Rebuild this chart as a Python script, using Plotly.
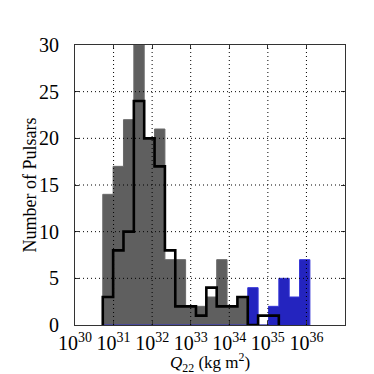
import plotly.graph_objects as go

# Histogram data (bins in log10(Q22 / kg m^2))
bin_left = 30.72          # log10 of first bin edge
bin_width = 0.2685        # bin width in decades
gray_counts = [14, 17, 22, 30, 20, 21, 7, 7, 2, 2, 3, 7, 2, 3, 0, 0, 0, 0, 0, 0]
blue_counts = [0, 0, 0, 0, 0, 0, 0, 0, 0, 0, 0, 0, 0, 0, 4, 0, 2, 5, 3, 7]
outline_counts = [3, 8, 10, 24, 20, 17, 8, 2, 2, 1, 4, 2, 2, 3, 0, 1, 1]
tick_exponents = [30, 31, 32, 33, 34, 35, 36]
y_ticks = [0, 5, 10, 15, 20, 25, 30]


def step_xy(counts):
    n = len(counts)
    edges = [bin_left + i * bin_width for i in range(n + 1)]
    xs = [edges[0]] + edges[:n] + [edges[n], edges[n]]
    ys = [0] + list(counts) + [counts[-1], 0]
    return xs, ys


FONT = "Liberation Serif"
fig = go.Figure()

gx, gy = step_xy(gray_counts)
fig.add_trace(go.Scatter(x=gx, y=gy, mode="lines", line=dict(shape="hv", color="#6a6a6a", width=1),
                         fill="tozeroy", fillcolor="#5f5f5f", hoverinfo="skip", showlegend=False))
bx, by = step_xy(blue_counts)
fig.add_trace(go.Scatter(x=bx, y=by, mode="lines", line=dict(shape="hv", color="#3535d6", width=1),
                         fill="tozeroy", fillcolor="#2424bf", hoverinfo="skip", showlegend=False))
ox, oy = step_xy(outline_counts)
fig.add_trace(go.Scatter(x=ox, y=oy, mode="lines", line=dict(shape="hv", color="black", width=2.6),
                         hoverinfo="skip", showlegend=False))

# fine dotted grid drawn above the bars
GRID = dict(color="black", width=1, dash="1px,3px")
for e in tick_exponents[1:]:
    fig.add_shape(type="line", xref="x", yref="paper", x0=e, x1=e, y0=0, y1=1,
                  line=GRID, layer="above")
for v in y_ticks[1:-1]:
    fig.add_shape(type="line", xref="paper", yref="y", x0=0, x1=1, y0=v, y1=v,
                  line=GRID, layer="above")

fig.add_annotation(text="<i>Q</i><sub>22</sub> (kg m<sup>2</sup>)", xref="paper", yref="paper",
                   x=0.5, y=-0.135, xanchor="center", yanchor="middle", showarrow=False,
                   font=dict(family=FONT, size=17, color="black"))
fig.add_annotation(text="Number of Pulsars", xref="paper", yref="paper",
                   x=-0.165, y=0.5, xanchor="center", yanchor="middle", textangle=-90,
                   showarrow=False, font=dict(family=FONT, size=18, color="black"))

fig.update_layout(
    width=374, height=374,
    margin=dict(l=67, r=37, t=37, b=57),
    paper_bgcolor="white", plot_bgcolor="white",
    font=dict(family=FONT, size=20, color="black"),
    xaxis=dict(range=[30, 37], tickvals=tick_exponents,
               ticktext=[f"10<sup>{e}</sup>" for e in tick_exponents],
               showgrid=False, zeroline=False, showline=True, linecolor="#333", linewidth=1,
               mirror="ticks", ticks="inside", ticklen=4, tickcolor="#333",
               automargin=False, layer="above traces"),
    yaxis=dict(range=[0, 30], tickvals=y_ticks, showgrid=False, zeroline=False,
               showline=True, linecolor="#333", linewidth=1, mirror="ticks",
               ticks="inside", ticklen=4, tickcolor="#333", automargin=False,
               ticklabelstandoff=11, layer="above traces"),
)

fig.write_html("out.html")
